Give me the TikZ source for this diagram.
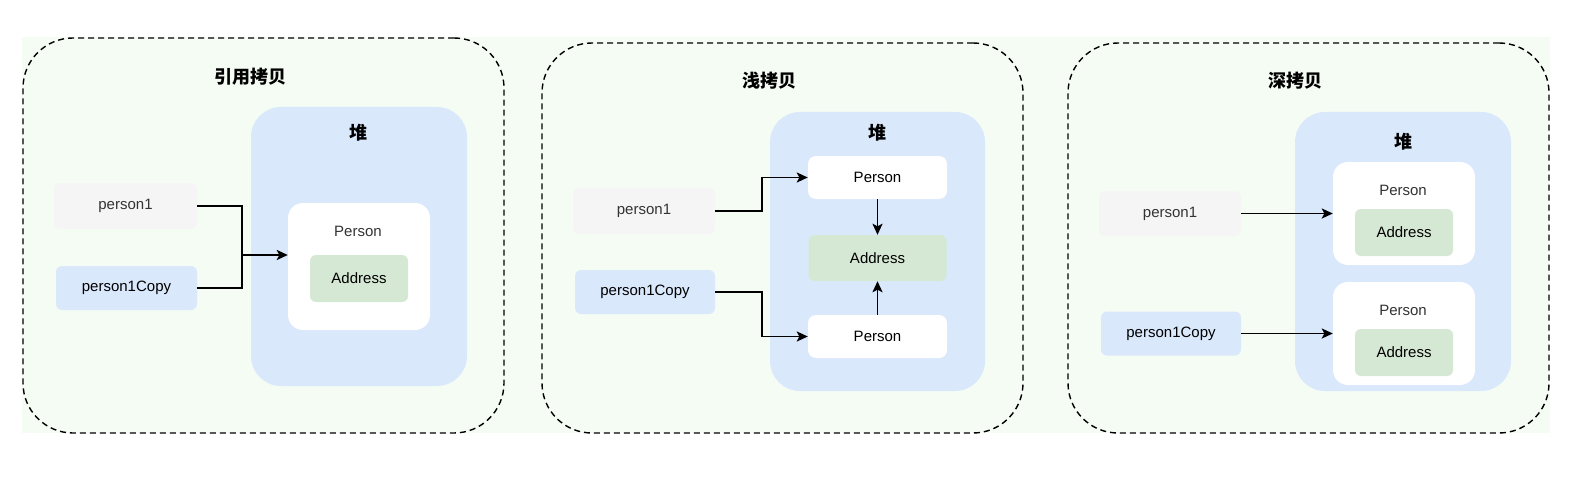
\documentclass[tikz,border=0pt]{standalone}
\usepackage{fontspec}
\setmainfont{Liberation Sans}
\newfontfamily\cjk{Noto Sans CJK SC}
\usetikzlibrary{arrows.meta}
\definecolor{bggreen}{RGB}{245,252,244}
\definecolor{heapblue}{HTML}{DAE8FC}
\definecolor{refgray}{HTML}{F5F5F5}
\definecolor{addrgreen}{HTML}{D5E8D4}
\definecolor{txtgray}{HTML}{333333}

\begin{document}
\begin{tikzpicture}[x=1pt, y=-1pt, font=\fontsize{15}{18}\selectfont]
        \tikzstyle{every node}=[inner sep=0pt, text=txtgray]
        \tikzstyle{copyframe}=[draw=black, line width=1.4pt, dash pattern=on 6pt off 4pt, rounded corners=50pt]
        \tikzstyle{heap}=[fill=heapblue, rounded corners=30pt]
        \tikzstyle{obj}=[fill=white, rounded corners=15pt]
        \tikzstyle{flat}=[fill=white, rounded corners=8pt]
        \tikzstyle{addr}=[fill=addrgreen, rounded corners=6pt, text=black, minimum height=47pt]
        \tikzstyle{refvar}=[fill=refgray, rounded corners=6pt, minimum height=46pt]
        \tikzstyle{copyvar}=[fill=heapblue, rounded corners=6pt, text=black, minimum height=44pt]
        \tikzstyle{title}=[font=\cjk\bfseries\fontsize{18}{20}\selectfont, text=black]
        \tikzstyle{wire}=[line width=1.9pt]
        \tikzstyle{link}=[line width=1.9pt, -{Stealth[length=11pt, width=10pt, inset=2.5pt]}]
        \useasboundingbox (0,0) rectangle (1584,484);
        \fill [bggreen] (22,37) rectangle (1550,433);
        % reference copy
        \node [copyframe, minimum width=481pt, minimum height=395pt] (frameA) at (263.5,235.5) {};
        \node [title] (titleA) at (250,77) {引用拷贝};
        \node [heap, minimum width=216pt, minimum height=279pt] (heapA) at (359,246.5) {};
        \node [title] (heapAlabel) at (358,133) {堆};
        \node [obj, minimum width=142pt, minimum height=127pt] (objA) at (359,266.5) {};
        \node (objAlabel) at (358,231) {Person};
        \node [addr, minimum width=98pt] (addrA) at (359,278.5) {Address};
        \node [refvar, minimum width=143pt] (varA) at (125.5,206) {person1};
        \node [copyvar, minimum width=141pt] (varAcopy) at (126.5,288) {person1Copy};
        \coordinate (joinA) at (242,255);
        \draw [wire] (varA.east) -| (joinA);
        \draw [wire] (varAcopy.east) -| (joinA);
        \draw [link] (joinA) -- (joinA -| objA.west);
        % shallow copy
        \node [copyframe, minimum width=481pt, minimum height=390pt] (frameB) at (782.5,238) {};
        \node [title] (titleB) at (769,81) {浅拷贝};
        \node [heap, minimum width=215pt, minimum height=279pt] (heapB) at (877.5,251.5) {};
        \node [title] (heapBlabel) at (877,133) {堆};
        \node [flat, minimum width=139pt, minimum height=43pt, text=black] (objBtop) at (877.5,177.5) {Person};
        \node [addr, minimum width=138pt, minimum height=46pt] (addrB) at (877.5,258) {Address};
        \node [flat, minimum width=139pt, minimum height=43pt, text=black] (objBbot) at (877.5,336.5) {Person};
        \node [refvar, minimum width=142pt] (varB) at (644,211) {person1};
        \node [copyvar, minimum width=140pt] (varBcopy) at (645,292) {person1Copy};
        \draw [link] (varB.east) -- ++(47,0) |- (objBtop.west);
        \draw [link] (varBcopy.east) -- ++(47,0) |- (objBbot.west);
        \draw [link] (objBtop.south) -- (addrB.north);
        \draw [link] (objBbot.north) -- (addrB.south);
        % deep copy
        \node [copyframe, minimum width=481pt, minimum height=390pt] (frameC) at (1308.5,238) {};
        \node [title] (titleC) at (1295,81) {深拷贝};
        \node [heap, minimum width=216pt, minimum height=279pt] (heapC) at (1403,251.5) {};
        \node [title] (heapClabel) at (1403,142) {堆};
        \node [obj, minimum width=142pt, minimum height=103pt] (objCtop) at (1404,213.5) {};
        \node (objCtoplabel) at (1403,190) {Person};
        \node [addr, minimum width=98pt] (addrCtop) at (1404,232.5) {Address};
        \node [obj, minimum width=142pt, minimum height=103pt] (objCbot) at (1404,333.5) {};
        \node (objCbotlabel) at (1403,310) {Person};
        \node [addr, minimum width=98pt] (addrCbot) at (1404,352.5) {Address};
        \node [refvar, minimum width=142pt, minimum height=45pt] (varC) at (1170,213.5) {person1};
        \node [copyvar, minimum width=140pt] (varCcopy) at (1171,333.5) {person1Copy};
        \draw [link] (varC.east) -- (objCtop.west);
        \draw [link] (varCcopy.east) -- (objCbot.west);
\end{tikzpicture}
\end{document}
